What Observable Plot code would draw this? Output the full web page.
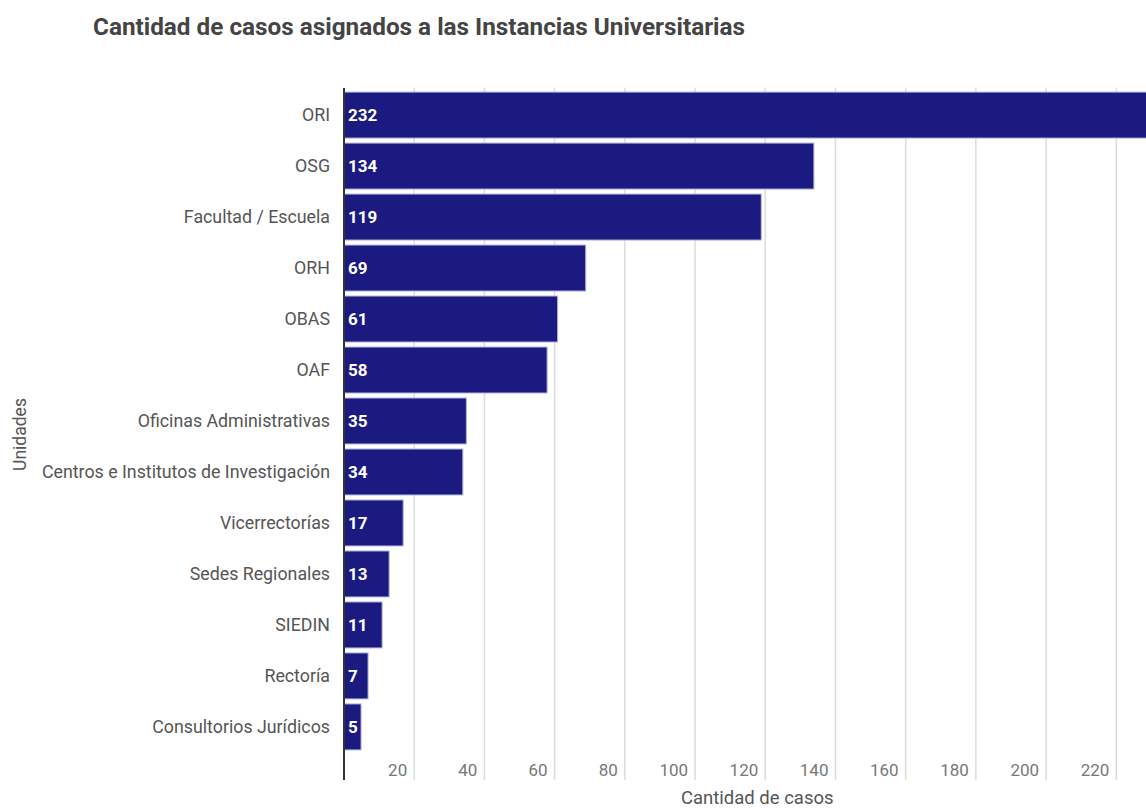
<!DOCTYPE html>
<html>
<head>
<meta charset="utf-8">
<script src="https://cdn.jsdelivr.net/npm/d3@7"></script>
<script src="https://cdn.jsdelivr.net/npm/@observablehq/plot@0.6"></script>
<style>
  html, body { margin: 0; padding: 0; background: #fff; overflow: hidden; }
  #title { height: 55px; box-sizing: border-box; padding: 13px 0 0 93px; line-height: 28px;
    font-family: Roboto, "Noto Sans", sans-serif; font-weight: 700; font-size: 24.3px; color: #444; }
  #chart svg { display: block; }
</style>
</head>
<body>
<div id="title">Cantidad de casos asignados a las Instancias Universitarias</div>
<div id="chart"></div>
<script>
const categories = ["ORI", "OSG", "Facultad / Escuela", "ORH", "OBAS", "OAF",
  "Oficinas Administrativas", "Centros e Institutos de Investigación", "Vicerrectorías",
  "Sedes Regionales", "SIEDIN", "Rectoría", "Consultorios Jurídicos"];
const values = [232, 134, 119, 69, 61, 58, 35, 34, 17, 13, 11, 7, 5];
const xTicks = [20, 40, 60, 80, 100, 120, 140, 160, 180, 200, 220];

const data = categories.map((name, i) => ({name, value: values[i]}));

const W = 1146, H = 753, mTop = 33, mBottom = 28, mLeft = 343.5;
const yTop = mTop, yBot = mTop + 666;

const chart = Plot.plot({
  width: W,
  height: H,
  marginTop: mTop,
  marginBottom: mBottom,
  marginLeft: mLeft,
  marginRight: 0,
  style: {fontFamily: "Roboto, 'Noto Sans', sans-serif", fontSize: "17px", background: "#fff"},
  x: {domain: [0, 228.6], axis: null},
  y: {domain: categories, range: [yTop, yBot], paddingInner: 0.098, paddingOuter: 0.08, round: false, axis: null},
  marks: [
    Plot.ruleX(xTicks, {stroke: "#dcdcdc", strokeWidth: 1.5}),
    Plot.barX(data, {x: "value", y: "name", fill: "#1b1a81", stroke: "#b4b4e2", strokeWidth: 1}),
    Plot.ruleX([0], {stroke: "#333", strokeWidth: 2}),
    Plot.text(xTicks, {x: d => d, frameAnchor: "bottom", textAnchor: "end", lineAnchor: "middle",
      dx: -7, dy: -10, fill: "#777", fontSize: 17}),
    Plot.text(data, {y: "name", text: "name", frameAnchor: "left", textAnchor: "end",
      dx: -14, fill: "#555", fontSize: 17.8}),
    Plot.text(data, {x: 0, y: "name", text: d => String(d.value), textAnchor: "start",
      dx: 4, fill: "#fff", fontWeight: "bold", fontSize: 17}),
    Plot.text(["Unidades"], {frameAnchor: "left", textAnchor: "middle", rotate: -90, dx: -323.5,
      fill: "#555", fontSize: 17.5}),
    Plot.text(["Cantidad de casos"], {frameAnchor: "bottom", lineAnchor: "middle", dx: 12, dy: 18,
      fill: "#555", fontSize: 18.5})
  ]
});
document.getElementById("chart").appendChild(chart);
</script>
</body>
</html>
